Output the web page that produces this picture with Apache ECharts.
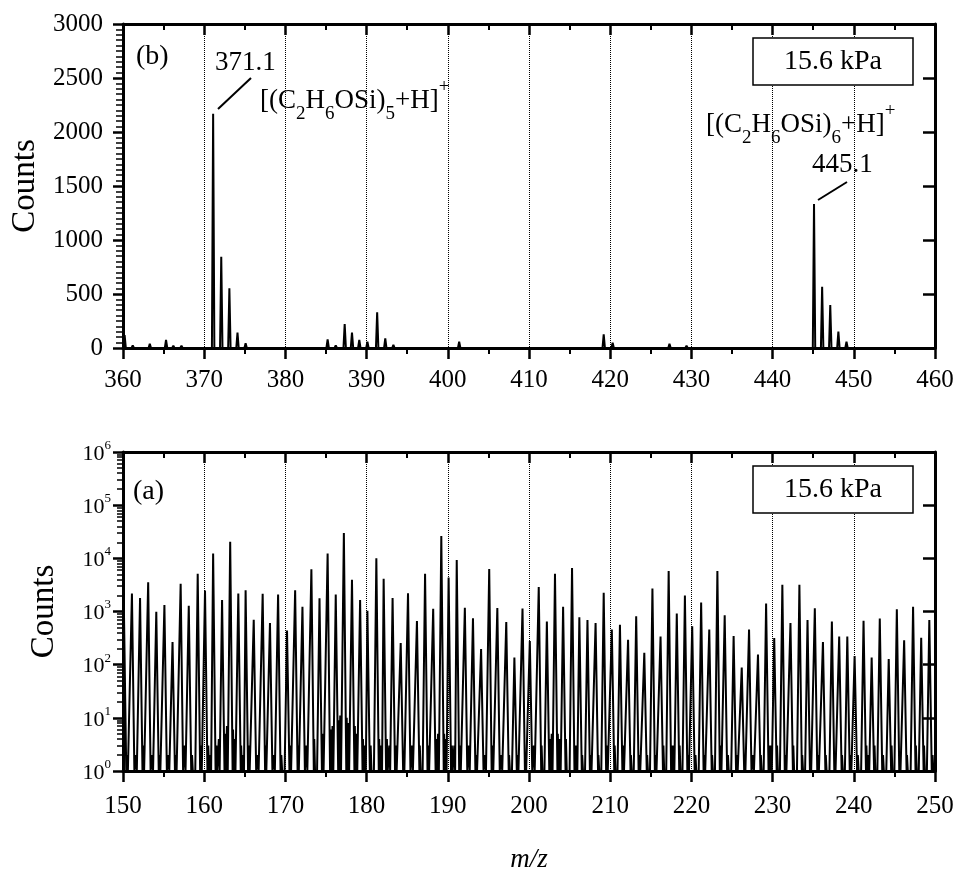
<!DOCTYPE html>
<html><head><meta charset="utf-8">
<script src="https://cdn.jsdelivr.net/npm/echarts@6/dist/echarts.min.js"></script>
<style>html,body{margin:0;padding:0;background:#fff}#c{width:960px;height:874px}</style>
</head><body><div id="c"></div>
<script>
// ---------- DATA ----------
// Panel (b): linear counts, m/z 360-460
const peaksB_mz = [360.2,361.2,362.2,363.3,364.2,365.3,366.2,367.2,368.2,369.2,
  371.1,372.1,373.1,374.1,375.1,376.1,377.4,379.4,381.4,383.4,
  385.2,386.2,387.3,388.2,389.1,390.1,391.3,392.3,393.3,395.4,397.4,399.4,401.4,403.4,
  405.3,407.2,409.3,411.4,413.4,415.2,417.3,419.2,420.3,421.3,423.3,425.3,427.3,428.2,429.4,431.3,433.3,435.3,437.3,
  445.1,446.1,447.1,448.1,449.1,450.2,452.2];
const peaksB_counts = [120,25,15,40,15,75,20,20,10,8,
  2170,845,553,142,43,10,12,10,8,12,
  80,25,222,142,74,58,330,90,28,8,10,15,58,10,
  8,10,8,10,10,8,10,127,50,12,8,8,40,15,20,8,10,8,6,
  1333,568,398,151,58,12,6];

// Panel (a): log counts, m/z 150-250 (main peaks)
const peaksA_mz = [150.1,151.1,152.1,153.1,154.1,155.1,156.1,157.1,158.1,159.2,
  160.1,161.1,162.2,163.2,164.2,165.1,166.1,167.2,168.1,169.1,
  170.2,171.2,172.1,173.2,174.2,175.2,176.2,177.2,178.2,179.2,
  180.1,181.2,182.1,183.2,184.2,185.1,186.2,187.2,188.2,189.2,
  190.1,191.1,192.1,193.1,194.1,195.1,196.1,197.2,198.2,199.2,
  200.1,201.2,202.2,203.2,204.2,205.3,206.2,207.2,208.2,209.2,
  210.2,211.2,212.2,213.2,214.2,215.2,216.2,217.2,218.2,219.2,
  220.1,221.2,222.2,223.2,224.1,225.2,226.2,227.1,228.2,229.2,
  230.2,231.2,232.2,233.3,234.3,235.2,236.2,237.3,238.2,239.2,
  240.1,241.2,242.2,243.2,244.3,245.3,246.2,247.3,248.3,249.3];
const peaksA_counts = [1470,2170,1800,3550,985,1330,267,3330,1280,5110,
  2470,12300,1650,20400,2170,2510,700,2150,605,2090,
  440,2510,1230,6260,1770,12300,2090,30000,3970,1650,
  1030,10000,4140,1800,256,2200,660,5100,1120,26300,
  4370,9330,1170,745,197,6290,1160,635,137,1140,
  278,2890,645,5110,1230,6600,775,690,610,2240,
  457,562,293,810,168,2700,340,5750,915,2000,
  525,1470,457,5800,850,345,88,457,155,1410,
  316,3200,605,3200,690,1150,267,650,340,340,
  145,670,136,740,128,1100,287,1230,322,690];

// Panel (a): low-level background counts between the peaks
const noiseA_mz = [150.5,151.6,152.5,153.6,154.5,155.6,156.5,157.6,158.5,159.6,
  160.5,160.75,161.5,161.8,162.55,162.8,163.55,163.75,164.55,164.8,
  165.5,166.6,167.55,168.6,169.5,170.6,171.55,172.6,173.55,174.6,
  175.55,175.8,176.55,176.75,177.55,177.75,178.55,178.75,179.55,179.8,
  180.5,181.55,181.8,182.5,182.8,183.6,184.55,185.6,186.55,187.6,
  188.55,188.8,189.55,189.75,190.5,190.8,191.5,192.6,193.5,194.6,
  195.5,196.6,197.55,198.6,199.55,200.6,201.55,202.55,202.8,203.55,
  203.8,204.55,205.65,205.85,206.55,207.6,208.55,209.6,210.55,211.6,
  212.55,213.6,214.55,215.6,216.55,217.55,217.8,218.55,219.6,220.5,
  221.6,222.55,223.6,224.5,225.6,226.55,227.6,228.55,229.55,229.8,
  230.55,231.6,232.55,233.65,234.65,235.6,236.55,237.65,238.55,239.6,
  240.5,241.55,241.8,242.55,243.6,244.65,245.65,246.55,247.65,248.65,249.7];
const noiseA_counts = [2,2,3,2,2,2,2,3,2,3,
  3,2,3,4,5,7,6,4,3,2,
  3,2,3,2,2,3,3,3,4,5,
  6,7,9,11,10,8,7,5,4,3,
  3,4,3,4,3,3,2,3,3,3,
  4,5,5,4,3,3,3,3,2,2,
  3,2,2,2,2,3,3,4,5,5,
  4,4,3,3,2,2,2,3,3,3,
  2,2,2,2,3,3,3,3,2,2,
  2,2,3,2,2,2,2,2,3,3,
  3,2,3,2,2,2,2,2,2,2,
  2,3,2,3,2,3,2,2,3,3,2];

const pressureLabel = '15.6 kPa';
const panelLabels = ['(b)', '(a)'];
const peakLabelsB = ['371.1', '445.1'];

// ---------- BUILD ----------
const FONT = 'Liberation Serif';
function spikes(list, base) {
  list.sort((a, b) => a.x - b.x);
  const pts = [];
  list.forEach(p => { pts.push([p.x - p.w, base]); pts.push([p.x, p.h]); pts.push([p.x + p.w, base]); });
  return pts;
}
const specB = spikes(peaksB_mz.map((x, i) => ({x, h: peaksB_counts[i], w: 0.15})), 0);
const specA = spikes(
  peaksA_mz.map((x, i) => ({x, h: peaksA_counts[i], w: 0.3}))
    .concat(noiseA_mz.map((x, i) => ({x, h: noiseA_counts[i], w: 0.1}))), 1);

const minorLogTicks = [];
for (let d = 0; d < 6; d++) for (let k = 2; k <= 9; k++) minorLogTicks.push(d + Math.log10(k));

const axisLine = {show: true, onZero: false, lineStyle: {color: '#000', width: 3}};
function xAx(grid, min, max, top) {
  return {
    type: 'value', gridIndex: grid, min, max, interval: 10, position: top ? 'top' : 'bottom',
    axisLine,
    axisTick: {show: true, inside: !!top, length: 11, lineStyle: {color: '#000', width: 2.5}},
    minorTick: {show: true, splitNumber: 2, length: 6, lineStyle: {color: '#000', width: 2}},
    axisLabel: {show: !top, color: '#000', fontFamily: FONT, fontSize: 25, margin: grid === 0 ? 20 : 23},
    splitLine: {show: !top, lineStyle: {color: '#000', width: 1, type: 'dotted'}},
    minorSplitLine: {show: false}
  };
}
const xAxes = [xAx(0, 360, 460, false), xAx(0, 360, 460, true), xAx(1, 150, 250, false), xAx(1, 150, 250, true)];
xAxes[2].name = 'm/z';
xAxes[2].nameLocation = 'middle';
xAxes[2].nameGap = 75;
xAxes[2].nameTextStyle = {fontFamily: FONT, fontSize: 27, fontStyle: 'italic', color: '#000'};

const countsName = {fontFamily: FONT, fontSize: 33, color: '#000'};
const yAxes = [
  {type: 'value', gridIndex: 0, min: 0, max: 3000, interval: 500, position: 'left', axisLine,
   axisTick: {show: true, inside: false, length: 10, lineStyle: {color: '#000', width: 2.5}},
   minorTick: {show: true, splitNumber: 10, length: 7, lineStyle: {color: '#000', width: 1.5}},
   axisLabel: {color: '#000', fontFamily: FONT, fontSize: 25, margin: 20, formatter: v => String(v)},
   splitLine: {show: false},
   name: 'Counts', nameLocation: 'middle', nameGap: 80, nameTextStyle: countsName},
  {type: 'value', gridIndex: 0, min: 0, max: 3000, interval: 500, position: 'right', axisLine,
   axisTick: {show: true, inside: true, length: 12, lineStyle: {color: '#000', width: 2.5}},
   axisLabel: {show: false}, splitLine: {show: false}},
  {type: 'log', logBase: 10, gridIndex: 1, min: 1, max: 1e6, splitNumber: 6, position: 'left', axisLine,
   axisTick: {show: true, inside: false, length: 10, lineStyle: {color: '#000', width: 2.5}},
   axisLabel: {color: '#000', fontFamily: FONT, margin: 12,
     formatter: v => '{b|10}{s|' + Math.round(Math.log10(v)) + '}',
     rich: {b: {fontFamily: FONT, fontSize: 22, color: '#000', lineHeight: 26, verticalAlign: 'bottom'},
            s: {fontFamily: FONT, fontSize: 13, color: '#000', lineHeight: 20, verticalAlign: 'top'}}},
   splitLine: {show: false},
   name: 'Counts', nameLocation: 'middle', nameGap: 62, nameTextStyle: countsName},
  {type: 'log', logBase: 10, gridIndex: 1, min: 1, max: 1e6, splitNumber: 6, position: 'right', axisLine,
   axisTick: {show: true, inside: true, length: 12, lineStyle: {color: '#000', width: 2.5}},
   axisLabel: {show: false}, splitLine: {show: false}},
  {type: 'value', gridIndex: 1, min: 0, max: 6, position: 'left',
   axisLine: {show: false},
   axisTick: {show: true, inside: false, length: 6, customValues: minorLogTicks, lineStyle: {color: '#000', width: 1.5}},
   axisLabel: {show: false}, splitLine: {show: false}}
];

const formulaRich = {
  n: {fontFamily: FONT, fontSize: 27, color: '#000', lineHeight: 46, verticalAlign: 'middle'},
  b: {fontFamily: FONT, fontSize: 19, color: '#000', lineHeight: 30, verticalAlign: 'bottom'},
  p: {fontFamily: FONT, fontSize: 19, color: '#000', lineHeight: 22, verticalAlign: 'top'}
};
function formula(nSub) {
  return '{n|[(C}{b|2}{n|H}{b|6}{n|OSi)}{b|' + nSub + '}{n|+H]}{p|+}';
}
function txt(x, y, text, size, align) {
  return {type: 'text', x, y, z: 110, style: {text, fill: '#000', fontFamily: FONT, fontSize: size,
    textAlign: align || 'left', textVerticalAlign: 'middle'}};
}
function box(x, y) {
  return {type: 'rect', z: 100, shape: {x, y, width: 160, height: 47},
    style: {fill: '#fff', stroke: '#000', lineWidth: 1.5}};
}
const graphics = [
  txt(136, 57, panelLabels[0], 28),
  txt(133, 492, panelLabels[1], 28),
  txt(215, 63, peakLabelsB[0], 27),
  txt(812, 165, peakLabelsB[1], 27),
  {type: 'text', x: 260, y: 78, z: 110, style: {text: formula(5), rich: formulaRich, textVerticalAlign: 'top'}},
  {type: 'text', x: 706, y: 102, z: 110, style: {text: formula(6), rich: formulaRich, textVerticalAlign: 'top'}},
  {type: 'line', z: 110, shape: {x1: 218, y1: 109, x2: 251, y2: 78}, style: {stroke: '#000', lineWidth: 2}},
  {type: 'line', z: 110, shape: {x1: 818, y1: 200, x2: 847, y2: 182}, style: {stroke: '#000', lineWidth: 2}},
  box(753, 38), txt(833, 62, pressureLabel, 28, 'center'),
  box(753, 466), txt(833, 490, pressureLabel, 28, 'center')
];

const chart = echarts.init(document.getElementById('c'), null, {renderer: 'canvas'});
chart.setOption({
  animation: false,
  backgroundColor: '#fff',
  grid: [
    {left: 123, top: 24, width: 812, height: 324},
    {left: 123, top: 452, width: 812, height: 324}
  ],
  xAxis: xAxes,
  yAxis: yAxes,
  series: [
    {type: 'line', xAxisIndex: 0, yAxisIndex: 0, data: specB, symbol: 'none', z: 3,
     lineStyle: {color: '#000', width: 2}},
    {type: 'line', xAxisIndex: 2, yAxisIndex: 2, data: specA, symbol: 'none', z: 3,
     lineStyle: {color: '#000', width: 2}}
  ],
  graphic: graphics
});
</script></body></html>
